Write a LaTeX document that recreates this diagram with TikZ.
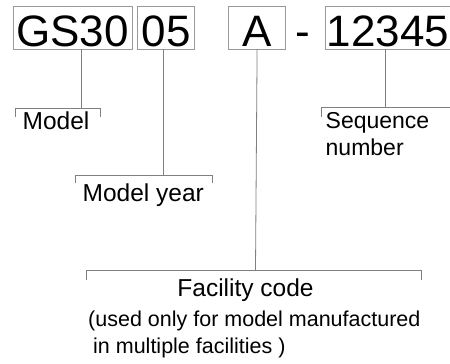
\documentclass[tikz,border=0pt]{standalone}
\usepackage{fontspec}
\setmainfont{Liberation Sans}
\usetikzlibrary{positioning}

\tikzset{
  codebox/.style={draw=gray!80,line width=0.8pt,inner sep=0pt,minimum height=43pt,
                  text height=40pt,text depth=3pt,font=\fontsize{44}{44}\selectfont},
  lead/.style={draw=gray,line width=0.8pt},
  txt/.style={inner sep=0pt,font=\fontsize{24.5}{27}\selectfont},
  note/.style={inner sep=0pt,font=\fontsize{21.5}{27}\selectfont}
}

\begin{document}
\begin{tikzpicture}[x=1pt,y=-1pt]
\useasboundingbox (0,0) rectangle (450,364);
% code boxes
\node[codebox,minimum width=119pt]	(gs)	at (72.5,27.5)		{GS30};
\node[codebox,minimum width=57pt]	(yr)	[right=5pt of gs]	{05};
\node[codebox,minimum width=57pt]	(fc)	[right=33pt of yr]	{A};
\node[codebox,minimum width=125pt]	(sn)	[right=39pt of fc]	{12345};
\node[inner sep=0pt,anchor=base,font=\fontsize{44}{44}\selectfont] (dash) at (303,46) {-};
% bracket tops
\coordinate (m) at (81,108);
\coordinate (y) at (163,175);
\coordinate (f) at (255.5,270);
\coordinate (s) at (385,107.5);
\draw[lead] (gs.south -| m) -- (m);
\draw[lead] (yr.south -| y) -- (y);
\draw[lead] (fc.south) -- (f);
\draw[lead] (sn.south -| s) -- (s);
\draw[lead] (15,117) |- (100,108) -- (100,117);
\draw[lead] (75,183) |- (212,175) -- (212,183);
\draw[lead] (86,280) |- (421,270) -- (421,280);
\draw[lead] (321,117) |- (450,107.5);
% labels
\node[txt,anchor=base west]		(mt)	at (22.5,129.5)	{Model};
\node[txt,anchor=base west]		(yt)	at (82.5,201.5)	{Model year};
\node[txt,anchor=north west,align=left,font=\fontsize{23}{27}\selectfont] (st) at (325.5,112.5) {Sequence\\number};
\node[txt,anchor=base]			(ft)	at (245.5,296)	{Facility code};
\node[note,anchor=north west,align=left] (fn)	at (88,311)	{(used only for model manufactured\\\hspace{5pt}in multiple facilities )};
\end{tikzpicture}
\end{document}
